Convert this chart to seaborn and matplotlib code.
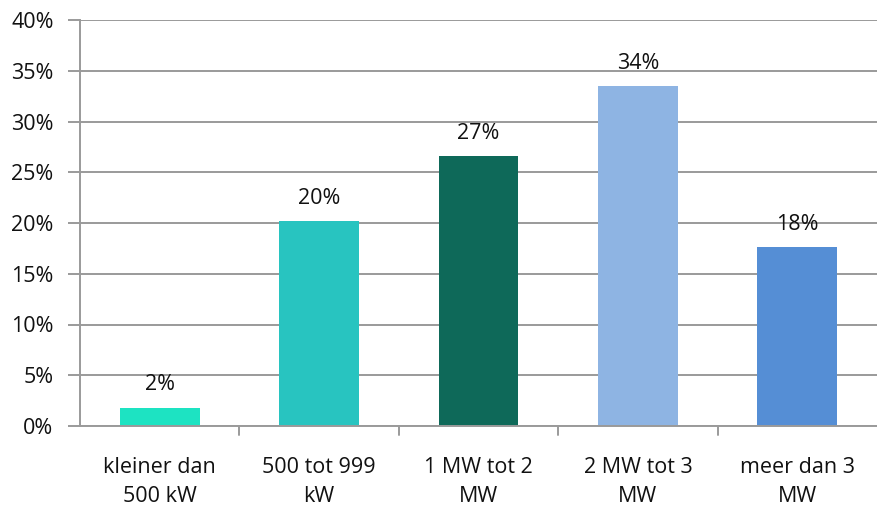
import matplotlib
matplotlib.use("Agg")
import matplotlib.pyplot as plt
import seaborn as sns
import pandas as pd
from matplotlib.ticker import FixedLocator, FuncFormatter

categories = ["kleiner dan\n500 kW", "500 tot 999\nkW", "1 MW tot 2\nMW", "2 MW tot 3\nMW", "meer dan 3\nMW"]
shares = [1.8, 20.2, 26.6, 33.5, 17.6]
colors = ["#1DE3C2", "#28C4C0", "#0E6959", "#8EB4E3", "#558ED5"]
y_ticks = [0, 5, 10, 15, 20, 25, 30, 35, 40]

sns.set_style("white")
plt.rcParams["font.family"] = ["Open Sans", "DejaVu Sans"]

df = pd.DataFrame({"categorie": categories, "aandeel": shares})

fig = plt.figure(figsize=(8.77, 5.09), dpi=100)
ax = fig.add_axes([80 / 877, 1 - 426 / 509, 1 - 80 / 877, (426 - 20) / 509])

sns.barplot(data=df, x="categorie", y="aandeel", hue="categorie",
            palette=colors, width=0.5, legend=False, ax=ax, saturation=1,
            linewidth=0)

ax.set_ylim(0, 40)
ax.set_xlim(-0.5, len(categories) - 0.5)
ax.yaxis.set_major_locator(FixedLocator(y_ticks))
ax.yaxis.set_major_formatter(FuncFormatter(lambda v, p: f"{v:.0f}%"))
ax.grid(axis="y", color="#9a9a9a", linewidth=1.4)
ax.set_axisbelow(True)

for side in ["top", "right"]:
    ax.spines[side].set_visible(False)
for side in ["left", "bottom"]:
    ax.spines[side].set_color("#9a9a9a")
    ax.spines[side].set_linewidth(1.4)

fs = 15.5
ax.tick_params(axis="y", length=9, width=1.4, color="#9a9a9a", labelsize=fs,
               labelcolor="#111111", pad=10, left=True)
ax.set_xticks(range(len(categories)))
ax.set_xticklabels(categories, fontsize=fs, linespacing=1.55, color="#111111")
ax.tick_params(axis="x", length=0, pad=22)
# boundary ticks between categories
for b in [0.5, 1.5, 2.5, 3.5]:
    ax.plot([b, b], [0, -0.85], color="#9a9a9a", linewidth=1.4, clip_on=False)

ax.set_xlabel("")
ax.set_ylabel("")

for i, v in enumerate(shares):
    ax.text(i, v + 1.7, f"{v:.0f}%", ha="center", va="baseline", fontsize=fs, color="#111111")

fig.savefig("out.png", dpi=100)
